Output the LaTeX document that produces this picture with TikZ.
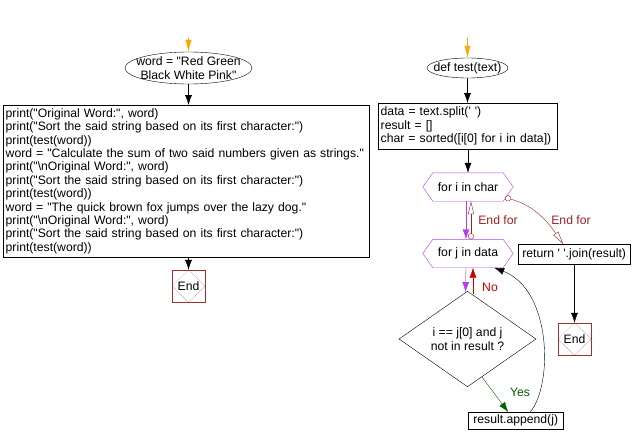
\documentclass[tikz,border=0pt]{standalone}
\usepackage{fontspec}
\newfontfamily\lib{Liberation Sans}
\usetikzlibrary{shapes.geometric,arrows.meta,calc}
\definecolor{pur}{RGB}{176,64,240}
\definecolor{efred}{RGB}{160,32,32}
\definecolor{nored}{RGB}{204,0,0}
\definecolor{yesgr}{RGB}{0,96,0}
\definecolor{endred}{RGB}{160,48,48}
\definecolor{orng}{RGB}{255,165,0}
\begin{document}
\begin{tikzpicture}[x=1pt,y=-1pt,
  every node/.style={font=\lib\fontsize{12.2}{13.4}\selectfont, inner sep=0pt},
  codebox/.style={draw, anchor=north west, align=left, inner xsep=2.5pt},
  plainbox/.style={draw, anchor=north west, align=center},
  elltext/.style={align=center},
  hexn/.style={minimum width=90pt, minimum height=28pt},
  dia/.style={draw, diamond, minimum width=137pt, minimum height=64pt, align=center},
  endn/.style={draw=endred, minimum width=33pt, minimum height=32pt},
  blk/.style={-{Latex[length=10pt,width=7pt]}},
  purarr/.style={draw=pur, -{Latex[length=10pt,width=7pt]}, fill=pur},
]
\useasboundingbox (0,0) rectangle (632,444);

% ---------- left flow ----------
\coordinate (o1) at (188.5,38);
\node[elltext, minimum width=127pt, minimum height=32pt] (w) at (188.5,68) {word = "Red Green\\Black White Pink"};
\draw (w.center) ellipse [x radius=63.5, y radius=16];
\node[codebox, text width=361pt, minimum height=152pt] (lb) at (3,105) {%
print("Original Word:", word)\\
print("Sort the said string based on its first character:")\\
print(test(word))\\
word = "Calculate the sum of two said numbers given as strings."\\
print("\textbackslash nOriginal Word:", word)\\
print("Sort the said string based on its first character:")\\
print(test(word))\\
word = "The quick brown fox jumps over the lazy dog."\\
print("\textbackslash nOriginal Word:", word)\\
print("Sort the said string based on its first character:")\\
print(test(word))};
\node[endn] (e1) at (188.5,286) {End};
\draw[endred, densely dotted] (e1.north) -- (e1.east) -- (e1.south) -- (e1.west) -- cycle;

\draw[orng, -{Latex[length=12pt,width=6pt]}] (o1) -- (w.north);
\draw[blk] (w.south) -- (w.south |- lb.north);
\draw[blk] (e1.north |- lb.south) -- (e1.north);

% ---------- right flow ----------
\coordinate (o2) at (467.5,38);
\node[elltext, minimum width=81pt, minimum height=20pt] (d) at (467.5,68) {def test(text)};
\draw (d.center) ellipse [x radius=40.5, y radius=10];
\node[codebox, text width=174pt, minimum height=46pt] (rb) at (378,103) {%
data = text.split(' ')\\
result = []\\
char = sorted([i[0] for i in data])};
\node[hexn] (fi) at (468,187) {for i in char};
\draw[pur] (fi.west) -- ([xshift=10pt]fi.north west) -- ([xshift=-10pt]fi.north east) -- (fi.east) -- ([xshift=-10pt]fi.south east) -- ([xshift=10pt]fi.south west) -- cycle;
\node[hexn] (fj) at (468,253.5) {for j in data};
\draw[pur] (fj.west) -- ([xshift=10pt]fj.north west) -- ([xshift=-10pt]fj.north east) -- (fj.east) -- ([xshift=-10pt]fj.south east) -- ([xshift=10pt]fj.south west) -- cycle;
\node[plainbox, minimum width=112pt, minimum height=20pt] (ret) at (518,244) {return ' '.join(result)};
\node[endn] (e2) at (574.5,339) {End};
\draw[endred, densely dotted] (e2.north) -- (e2.east) -- (e2.south) -- (e2.west) -- cycle;
\node[dia] (dc) at (467.5,339) {i == j[0] and j\\not in result ?};
\node[plainbox, minimum width=95pt, minimum height=17pt] (ap) at (468,412) {result.append(j)};

\draw[orng, -{Latex[length=12pt,width=6pt]}] (o2) -- (d.north);
\draw[blk] (d.south) -- (d.south |- rb.north);
\draw[blk] (rb.south -| fi.north) -- (fi.north);
\draw[purarr] ([xshift=-2pt]fi.south) -- ([xshift=-2pt]fj.north);
\draw[efred, {Circle[open,length=6pt]}-{Triangle[open,length=13pt,width=6pt]}] ([xshift=3pt]fj.north) -- ([xshift=3pt]fi.south);
\node[text=efred] (lef1) at (498,220) {End for};
\coordinate (fiC) at (505,197.5);
\draw[efred, {Circle[open,length=6pt]}-{Triangle[open,length=13pt,width=6pt]}] (fiC) .. controls (532,205) and (545,218) .. ([xshift=-11pt]ret.north);
\node[text=efred] (lef2) at (571,220) {End for};
\draw[purarr] ([xshift=-2pt]fj.south) -- ($(dc.north)+(-2,1)$);
\draw[nored, -{Latex[length=10pt,width=7pt]}] ($(dc.north)+(5.5,2.5)$) -- ([xshift=5pt]fj.south);
\node[text=nored] (lno) at (490,287) {No};
\draw[yesgr, -{Latex[length=10pt,width=7pt]}] ($(dc.south)!0.21!(dc.east)$) -- ([xshift=-7.5pt]ap.north);
\node[text=yesgr] (lyes) at (520,392) {Yes};
\draw[blk] ([xshift=14.5pt]ap.north) .. controls (553,385) and (552,290) .. ([xshift=-19pt]fj.south east);
\draw[blk] (ret.south -| e2.north) -- (e2.north);
\end{tikzpicture}
\end{document}
